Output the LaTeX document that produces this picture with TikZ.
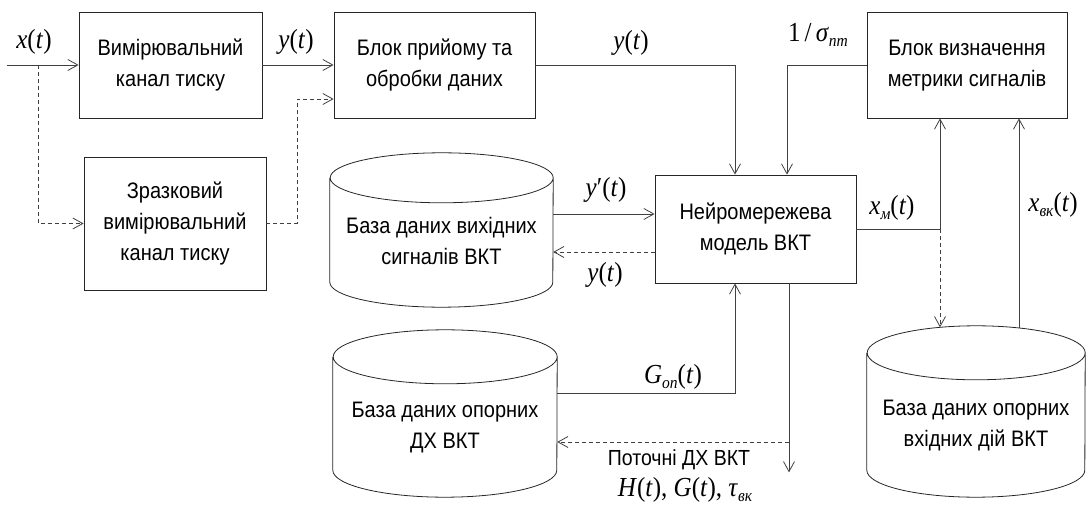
\documentclass[tikz,border=0pt]{standalone}
\usepackage{fontspec}
\usepackage{graphicx}
\setmainfont{Liberation Sans}
\newfontfamily\tnr{Liberation Serif}
\usetikzlibrary{arrows.meta}
\newcommand\mth[1]{\scalebox{1}[1.1]{\tnr\fontsize{25}{28}\selectfont #1}}
\newcommand\sbs[1]{\raisebox{-4pt}{\fontsize{15.5}{16}\selectfont\itshape #1}}
\newcommand\iv[1]{\textit{#1}}
\newcommand\tx[1]{\scalebox{1}[1.12]{\fontsize{20}{27.5}\selectfont\begin{tabular}{@{}c@{}}#1\end{tabular}}}
\begin{document}
\begin{tikzpicture}[x=1pt,y=1pt,
 box/.style={draw=black!85,line width=0.8pt,inner sep=0pt,align=center},
 cyl/.style={inner sep=0pt,align=center},
 cylline/.style={draw=black!85,line width=0.8pt},
 arr/.style={-{Straight Barb[length=10pt,width=11pt]},line width=0.8pt,draw=black!75},
 dsh/.style={dash pattern=on 4pt off 3pt},
 lbl/.style={inner sep=0pt}]
\useasboundingbox (0,0) rectangle (1087,509);

% blocks
\node[box,minimum width=183pt,minimum height=106pt] (b1) at (170.5,444) {\tx{Вимірювальний\\канал тиску}};
\node[box,minimum width=201pt,minimum height=106pt] (b2) at (434.5,444) {\tx{Блок прийому та\\обробки даних}};
\node[box,minimum width=200pt,minimum height=106pt] (b3) at (967,444) {\tx{Блок визначення\\метрики сигналів}};
\node[box,minimum width=182pt,minimum height=133pt] (b4) at (175,285.5) {\tx{Зразковий\\вимірювальний\\канал тиску}};
\node[box,minimum width=201pt,minimum height=108pt] (nn) at (755.5,280) {\tx{Нейромережева\\модель ВКТ}};

% cylinders
\node[cyl,minimum width=223pt,minimum height=129pt] (c1) at (441.5,266.5) {\tx{База даних вихідних\\сигналів ВКТ}};
\draw[cylline] (c1.north west) -- ([yshift=25pt]c1.south west) arc[start angle=180,end angle=360,x radius=111.5pt,y radius=25pt] -- (c1.north east) arc[start angle=0,end angle=360,x radius=111.5pt,y radius=25pt];
\node[cyl,minimum width=224pt,minimum height=140pt] (c2) at (445,82) {\tx{База даних опорних\\ДХ ВКТ}};
\draw[cylline] (c2.north west) -- ([yshift=27pt]c2.south west) arc[start angle=180,end angle=360,x radius=112pt,y radius=27pt] -- (c2.north east) arc[start angle=0,end angle=360,x radius=112pt,y radius=27pt];
\node[cyl,minimum width=218pt,minimum height=144pt] (c3) at (976,84) {\tx{База даних опорних\\вхідних дій ВКТ}};
\draw[cylline] (c3.north west) -- ([yshift=27pt]c3.south west) arc[start angle=180,end angle=360,x radius=109pt,y radius=27pt] -- (c3.north east) arc[start angle=0,end angle=360,x radius=109pt,y radius=27pt];

% connectors
\coordinate (in) at (7,444);
\draw[arr] (in) -- (b1.west);
\coordinate (s1) at (38,444);
\draw[arr,dsh] (s1) |- (b4.west);
\draw[arr] (b1.east) -- (b2.west);
\coordinate (b2d) at ([yshift=-34pt]b2.west);
\draw[arr,dsh] (b4.east) -- ++(31,0) |- (b2d);
\coordinate (nnt1) at ([xshift=-20.5pt]nn.north);
\coordinate (nnt2) at ([xshift=31.5pt]nn.north);
\draw[arr] (b2.east) -| (nnt1);
\draw[arr] (b3.west) -| (nnt2);
\coordinate (b3s1) at ([xshift=-27pt]b3.south);
\coordinate (b3s2) at ([xshift=52pt]b3.south);
\draw[arr] (nn.east) -| (b3s1);
\coordinate (j) at (nn.east -| b3s1);
\coordinate (c3t1) at ([xshift=-36pt,yshift=25.5pt]c3.north);
\draw[arr,dsh] (j) -- (c3t1);
\coordinate (c3t2) at ([xshift=43pt,yshift=24.8pt]c3.north);
\draw[arr] (c3t2) -- (c3t2 |- b3s2);
\coordinate (nw1) at ([yshift=15pt]nn.west);
\coordinate (nw2) at ([yshift=-23pt]nn.west);
\draw[arr] (nw1 -| c1.east) -- (nw1);
\draw[arr,dsh] (nw2) -- (nw2 -| c1.east);
\coordinate (c2e1) at ([yshift=34pt]c2.east);
\coordinate (nns1) at ([xshift=-20.5pt]nn.south);
\draw[arr] (c2e1) -| (nns1);
\coordinate (o1) at ([xshift=33.5pt]nn.south);
\coordinate (out) at ([yshift=-189pt]o1);
\draw[arr] (o1) -- (out);
\coordinate (c2e2) at ([yshift=-15pt]c2.east);
\draw[arr,dsh] (o1 |- c2e2) -- (c2e2);

% labels
\node[lbl] (lx) at (34,467) {\mth{\iv{x}(\iv{t})}};
\node[lbl] (ly1) at (296,467) {\mth{\iv{y}(\iv{t})}};
\node[lbl] (ly2) at (631,466) {\mth{\iv{y}(\iv{t})}};
\node[lbl] (ls) at (818,474) {\mth{1\,/\,\iv{σ}\sbs{пт}}};
\node[lbl] (lxm) at (892,301) {\mth{\iv{x}\sbs{м}(\iv{t})}};
\node[lbl] (lxv) at (1053,304) {\mth{\iv{x}\sbs{вк}(\iv{t})}};
\node[lbl] (lyp) at (606,319) {\mth{\iv{y}′(\iv{t})}};
\node[lbl] (lyd) at (605,234) {\mth{\iv{y}(\iv{t})}};
\node[lbl] (lg) at (673,132) {\mth{\iv{G}\sbs{оп}(\iv{t})}};
\node[lbl] (lp) at (679,49) {\scalebox{1}[1.12]{\fontsize{19.5}{22}\selectfont Поточні ДХ ВКТ}};
\node[lbl] (lh) at (685,19) {\mth{\iv{H}(\iv{t}), \iv{G}(\iv{t}), \iv{τ}\sbs{вк}}};
\end{tikzpicture}
\end{document}
